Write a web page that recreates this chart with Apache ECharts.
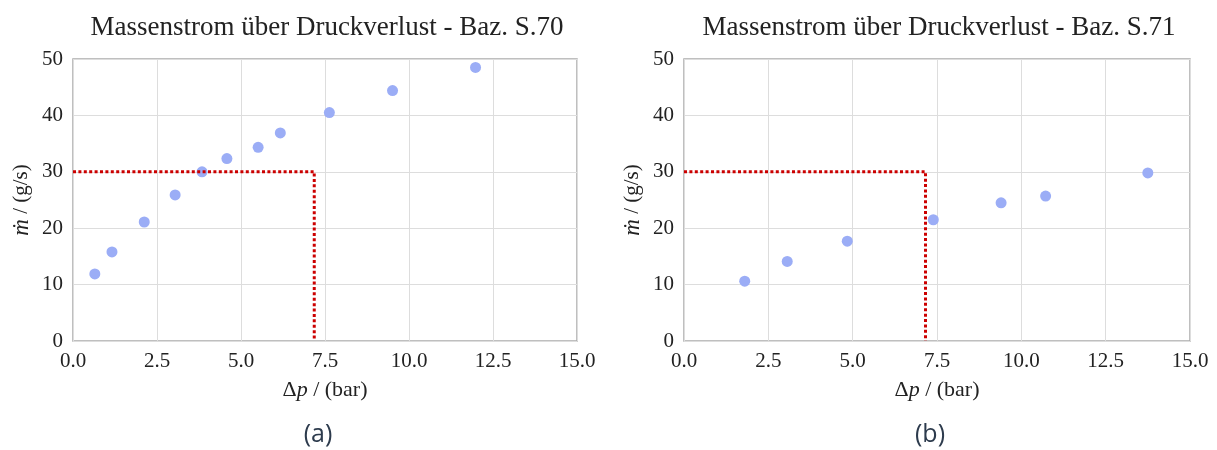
<!DOCTYPE html>
<html>
<head>
<meta charset="utf-8">
<script src="https://cdn.jsdelivr.net/npm/echarts@6/dist/echarts.min.js"></script>
<style>
  html, body { margin: 0; padding: 0; background: #fff; }
  #chart { width: 1217px; height: 450px; }
</style>
</head>
<body>
<div id="chart"></div>
<script>
// Baz. S.70 (left panel)
const dpA = [0.65, 1.16, 2.12, 3.04, 3.84, 4.58, 5.51, 6.17, 7.63, 9.51, 11.98];
const mA = [11.9, 15.8, 21.1, 25.9, 30.0, 32.35, 34.35, 36.9, 40.5, 44.4, 48.5];
const refA = [[0, 30], [7.18, 30], [7.18, 0]];

// Baz. S.71 (right panel)
const dpB = [1.80, 3.06, 4.84, 7.39, 9.40, 10.72, 13.75];
const mB = [10.6, 14.1, 17.7, 21.5, 24.5, 25.7, 29.8];
const refB = [[0, 30], [7.16, 30], [7.16, 0]];

const titles = ['Massenstrom über Druckverlust - Baz. S.70', 'Massenstrom über Druckverlust - Baz. S.71'];
const captions = ['(a)', '(b)'];
const xTicks = ['0.0', '2.5', '5.0', '7.5', '10.0', '12.5', '15.0'];

const serif = 'Liberation Serif';
const pointColor = '#9badf6';
const refColor = '#cc0000';

const grids = [
  { left: 73, top: 59, width: 504, height: 282 },
  { left: 684, top: 59, width: 506, height: 282 }
];

const makeX = (i) => ({
  type: 'value',
  gridIndex: i,
  min: 0,
  max: 15,
  interval: 2.5,
  name: '{d|Δ}{i|p} / (bar)',
  nameLocation: 'middle',
  nameGap: 38,
  nameTextStyle: {
    color: '#222',
    rich: {
      d: { fontFamily: serif, fontSize: 22, color: '#222' },
      i: { fontFamily: serif, fontSize: 22, fontStyle: 'italic', color: '#222' }
    },
    fontFamily: serif,
    fontSize: 22
  },
  axisLine: { show: false },
  axisTick: { show: false },
  axisLabel: {
    margin: 10,
    color: '#222',
    fontFamily: serif,
    fontSize: 21,
    formatter: (v) => xTicks[Math.round(v / 2.5)]
  },
  splitLine: { lineStyle: { color: '#dddddd', width: 1 } }
});

const makeY = (i) => ({
  type: 'value',
  gridIndex: i,
  min: 0,
  max: 50,
  interval: 10,
  name: '{i|ṁ} / (g/s)',
  nameLocation: 'middle',
  nameRotate: 90,
  nameGap: 40,
  nameTextStyle: {
    color: '#222',
    fontFamily: serif,
    fontSize: 21,
    rich: {
      i: { fontFamily: serif, fontSize: 23, fontStyle: 'italic', color: '#222' }
    }
  },
  axisLine: { show: false },
  axisTick: { show: false },
  axisLabel: {
    margin: 10,
    color: '#222',
    fontFamily: serif,
    fontSize: 21
  },
  splitLine: { lineStyle: { color: '#dddddd', width: 1 } }
});

const scatter = (i, xs, ys) => ({
  type: 'scatter',
  xAxisIndex: i,
  yAxisIndex: i,
  symbolSize: 11,
  itemStyle: { color: pointColor, opacity: 1 },
  data: xs.map((x, k) => [x, ys[k]]),
  z: 3
});

const refLine = (i, pts) => ({
  type: 'line',
  xAxisIndex: i,
  yAxisIndex: i,
  data: pts,
  symbol: 'none',
  lineStyle: { color: refColor, width: 3, type: [3, 2.4] },
  z: 4
});

const chart = echarts.init(document.getElementById('chart'), null, { renderer: 'canvas' });

chart.setOption({
  animation: false,
  backgroundColor: '#fff',
  title: titles.map((t, i) => ({
    text: t,
    left: grids[i].left + grids[i].width / 2 - 3,
    top: 9,
    textAlign: 'center',
    textStyle: { fontFamily: serif, fontSize: 27, fontWeight: 'normal', color: '#222' }
  })),
  grid: grids.map((g) => ({
    ...g,
    show: true,
    borderColor: '#aaaaaa',
    borderWidth: 1.5,
    backgroundColor: 'transparent'
  })),
  xAxis: [makeX(0), makeX(1)],
  yAxis: [makeY(0), makeY(1)],
  graphic: captions.map((c, i) => ({
    type: 'text',
    x: i === 0 ? 318 : 930,
    y: 435,
    style: {
      text: c,
      fontFamily: 'Open Sans',
      fontSize: 25,
      fill: '#2d3b4d',
      align: 'center',
      verticalAlign: 'middle'
    }
  })),
  series: [
    scatter(0, dpA, mA),
    refLine(0, refA),
    scatter(1, dpB, mB),
    refLine(1, refB)
  ]
});
</script>
</body>
</html>
